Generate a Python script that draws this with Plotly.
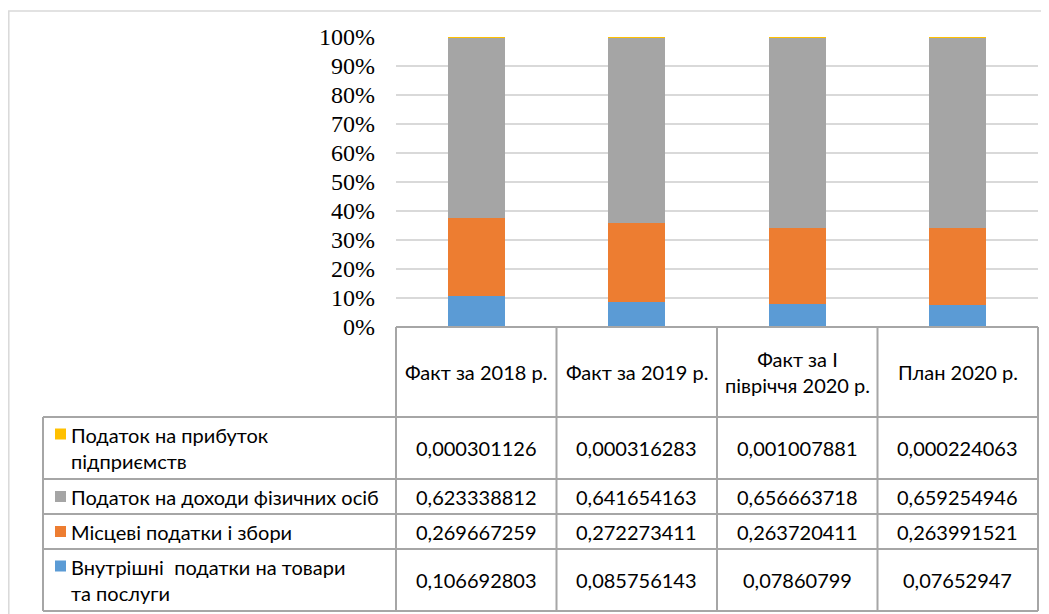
import plotly.graph_objects as go

categories = ["Факт за 2018 р.", "Факт за 2019 р.", "Факт за І<br>півріччя 2020 р.", "План 2020 р."]
series_names = [
    "Внутрішні  податки на товари<br>та послуги",
    "Місцеві податки і збори",
    "Податок на доходи фізичних осіб",
    "Податок на прибуток<br>підприємств",
]
vnutrishni = [0.106692803, 0.085756143, 0.07860799, 0.07652947]
mistsevi = [0.269667259, 0.272273411, 0.263720411, 0.263991521]
pdfo = [0.623338812, 0.641654163, 0.656663718, 0.659254946]
prybutok = [0.000301126, 0.000316283, 0.001007881, 0.000224063]
colors = ["#5B9BD5", "#ED7D31", "#A5A5A5", "#FFC000"]
y_ticks = [0, 0.1, 0.2, 0.3, 0.4, 0.5, 0.6, 0.7, 0.8, 0.9, 1.0]

series_values = [vnutrishni, mistsevi, pdfo, prybutok]

OFF = 8  # page body margin
WIN_W, WIN_H = 1049, 614
W, H = WIN_W - OFF, WIN_H - OFF
L, R, T, B = 396, 1038, 37, 327  # plot area in window px

def px(x):
    return (x - L) / (R - L)

def py(y):
    return (B - y) / (B - T)

xs = list(range(len(categories)))
fig = go.Figure()
for name, vals, c in zip(series_names, series_values, colors):
    fig.add_trace(go.Bar(x=xs, y=vals, name=name, marker=dict(color=c, line=dict(width=0)),
                         showlegend=False))

fig.update_layout(
    width=W, height=H,
    margin=dict(l=L - OFF, r=WIN_W - R, t=T - OFF, b=WIN_H - B),
    barmode="stack", barnorm="fraction", bargap=0.645,
    plot_bgcolor="white", paper_bgcolor="white",
    xaxis=dict(range=[-0.5, len(categories) - 0.5], showticklabels=False, showgrid=False,
               zeroline=False, fixedrange=True),
    yaxis=dict(range=[0, 1], tickvals=y_ticks, tickformat=".0%", showgrid=True,
               gridcolor="#D9D9D9", gridwidth=1.5, zeroline=False, ticks="",
               ticklabelstandoff=20,
               tickfont=dict(family="Liberation Serif", size=24, color="black")),
)

line_c = "#A6A6A6"
shapes = []
def hline(x0, x1, y):
    shapes.append(dict(type="line", xref="paper", yref="paper", x0=px(x0), x1=px(x1),
                       y0=py(y), y1=py(y), line=dict(color=line_c, width=2), layer="above"))
def vline(x, y0, y1):
    shapes.append(dict(type="line", xref="paper", yref="paper", x0=px(x), x1=px(x),
                       y0=py(y0), y1=py(y1), line=dict(color=line_c, width=2), layer="above"))

# outer chart border
shapes.append(dict(type="rect", xref="paper", yref="paper", x0=px(OFF + 0.8), x1=px(1070),
                   y0=py(11), y1=py(640), line=dict(color="#D9D9D9", width=1.5), layer="below"))

row_lines = [417, 479, 514, 549, 611]
col_lines = [L + (R - L) * i / len(categories) for i in range(len(categories) + 1)]
hline(L, R, B)
for y in row_lines:
    hline(43, R, y)
vline(43, 417, 611)
for x in col_lines:
    vline(x, B, 611)

tfont = dict(family="Lato", size=20, color="black")
ann = []
# header
for i, c in enumerate(categories):
    ann.append(dict(x=i, xref="x", y=py((B + 417) / 2), yref="paper", text=c, showarrow=False,
                    font=tfont, xanchor="center", yanchor="middle", align="center"))

# rows: top to bottom = reverse series order
row_bounds = list(zip([417, 479, 514, 549], [479, 514, 549, 611]))
for r, si in enumerate(reversed(range(len(series_names)))):
    y0, y1 = row_bounds[r]
    yc = (y0 + y1) / 2
    two_line = "<br>" in series_names[si]
    key_y = y0 + 17 if two_line else yc
    shapes.append(dict(type="rect", xref="paper", yref="paper", x0=px(55), x1=px(66),
                       y0=py(key_y - 5.5), y1=py(key_y + 5.5),
                       fillcolor=colors[si], line=dict(width=0)))
    ann.append(dict(x=px(69), xref="paper", y=py(yc), yref="paper", text=series_names[si],
                    showarrow=False, font=tfont, xanchor="left", yanchor="middle", align="left"))
    for i, v in enumerate(series_values[si]):
        ann.append(dict(x=i, xref="x", y=py(yc), yref="paper", text=str(v).replace(".", ","),
                        showarrow=False, font=tfont, xanchor="center", yanchor="middle"))

fig.update_layout(annotations=ann, shapes=shapes)
fig.write_html("out.html")
